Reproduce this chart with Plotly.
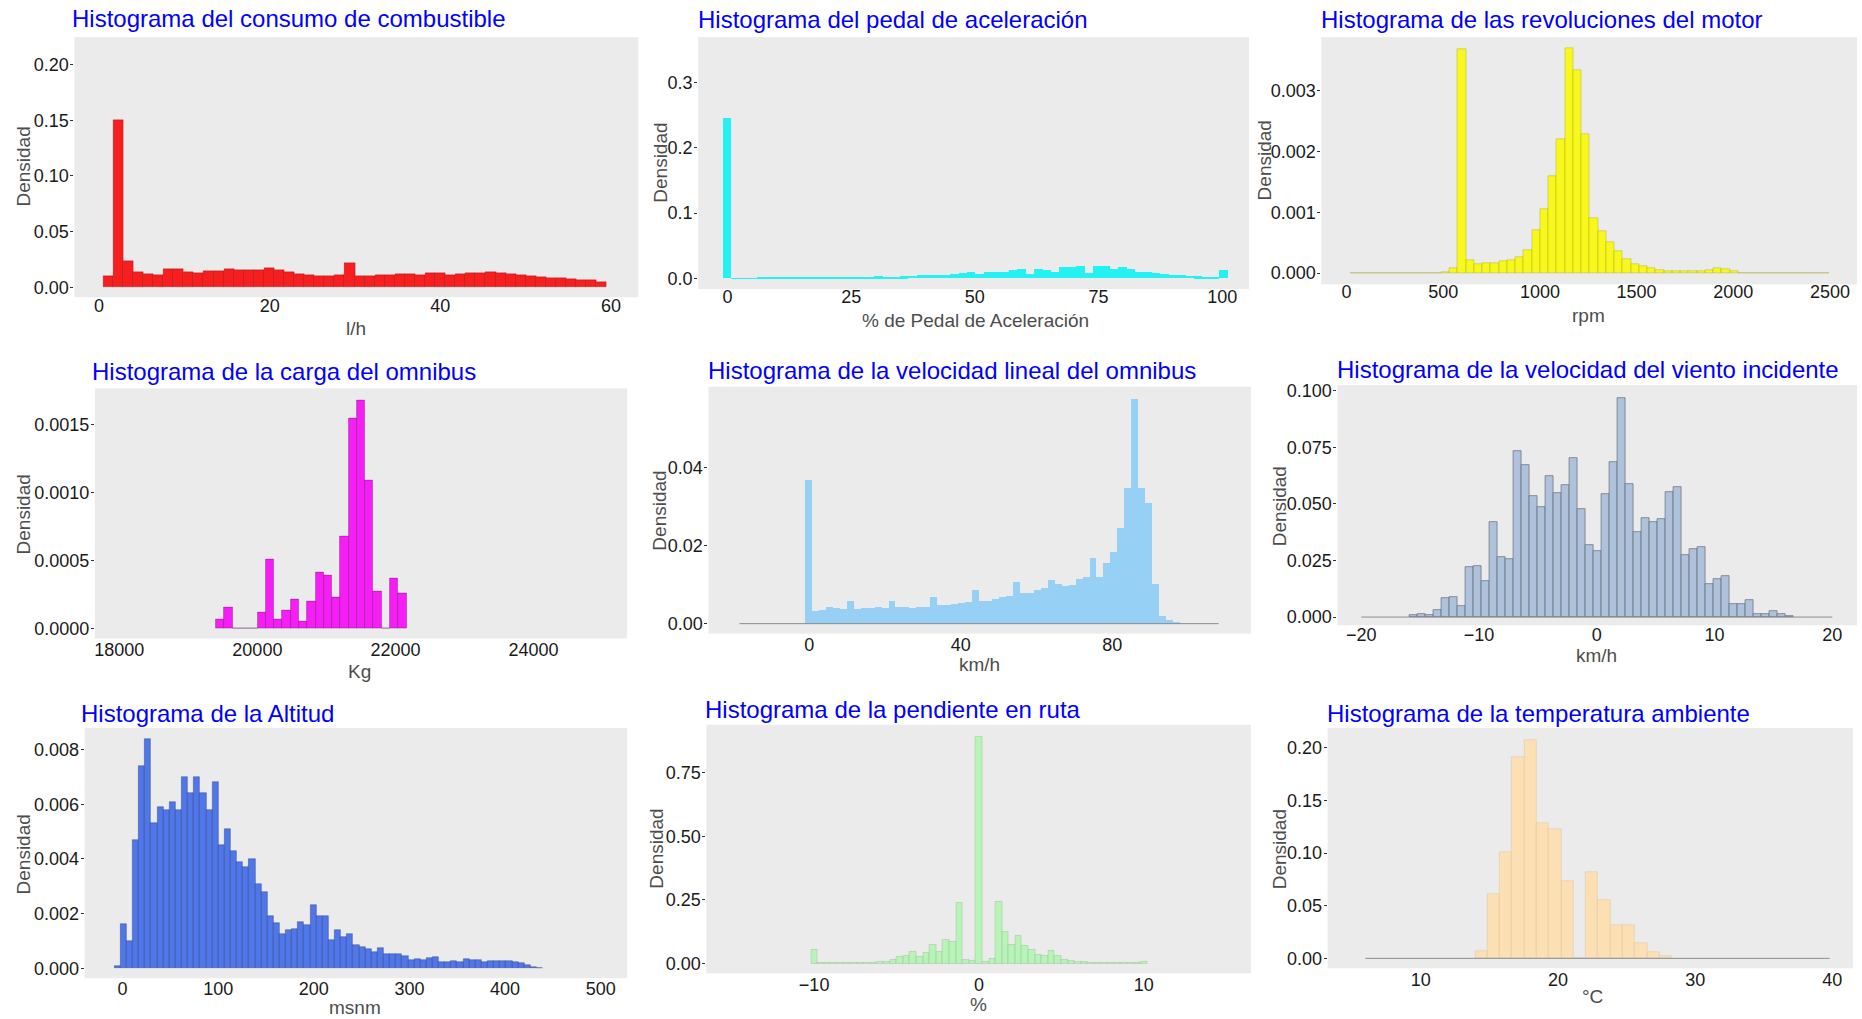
import plotly.graph_objects as go

W, H = 1862, 1019

# ---------------------------------------------------------------------------
# Histogram data: first bin edge, bin width and density of every bin
# ---------------------------------------------------------------------------
fuel_start, fuel_width = 0.5, 1.18
fuel_density = [
    0.0099, 0.150, 0.024, 0.014, 0.012, 0.011, 0.016, 0.0165, 0.0135, 0.013,
    0.0147, 0.0144, 0.016, 0.0153, 0.0153, 0.0156, 0.0174, 0.0156, 0.014, 0.012,
    0.0114, 0.0099, 0.0105, 0.0108, 0.0219, 0.0105, 0.0105, 0.0108, 0.0114, 0.012,
    0.0123, 0.011, 0.0132, 0.0132, 0.0114, 0.012, 0.0126, 0.0129, 0.0135, 0.0129,
    0.012, 0.011, 0.0099, 0.0093, 0.0084, 0.0087, 0.0075, 0.0069, 0.0069, 0.0051,
]

pedal_start, pedal_width = -0.85, 1.7
pedal_density = [
    0.246, 0.0004, 0.0004, 0.0004, 0.0005, 0.0005, 0.0005, 0.0006, 0.0007, 0.0008,
    0.0009, 0.0010, 0.0011, 0.0012, 0.0013, 0.0015, 0.0020, 0.0022, 0.0028, 0.0025,
    0.0022, 0.0030, 0.0038, 0.0045, 0.0050, 0.0055, 0.0050, 0.0065, 0.0080, 0.0100,
    0.0060, 0.0100, 0.0100, 0.0090, 0.0120, 0.0140, 0.0070, 0.0140, 0.0130, 0.0100,
    0.0170, 0.0170, 0.0190, 0.0080, 0.0190, 0.0190, 0.0150, 0.0170, 0.0150, 0.0090,
    0.0100, 0.0080, 0.0060, 0.0050, 0.0050, 0.0040, 0.0030, 0.0020, 0.0020, 0.0120,
]

rpm_start, rpm_width = 19.0, 42.7
rpm_density = [
    0.000005, 0.000005, 0.000005, 0.000005, 0.000005, 0.000005, 0.000005, 0.000005,
    0.000005, 0.000005, 0.000005, 0.00002, 0.00009, 0.00368, 0.00022, 0.00014,
    0.00016, 0.00016, 0.00019, 0.00022, 0.00026, 0.00038, 0.00071, 0.00105,
    0.0016, 0.0022, 0.0037, 0.00334, 0.00229, 0.00091, 0.00069, 0.00051,
    0.00037, 0.00023, 0.00015, 0.00011, 0.00008, 0.00005, 0.00004, 0.00003,
    0.00003, 0.00003, 0.00004, 0.00005, 0.00008, 0.00007, 0.00003, 0.000005,
    0.000005, 0.000005, 0.000005, 0.000005, 0.000005, 0.000005, 0.000005, 0.000005,
    0.000005, 0.000005,
]

load_start, load_width = 19400.0, 120.0
load_density = [
    0.0000683, 0.000159, 0.0, 0.0, 0.0, 0.000122, 0.000512, 0.000066,
    0.000134, 0.000212, 0.000054, 0.0002, 0.000415, 0.00039, 0.000232, 0.000676,
    0.00155, 0.00168, 0.00109, 0.000276, 0.0, 0.000373, 0.000261,
]

speed_start, speed_width = -0.915, 1.83
speed_extent = (-18.4, 108.1)
speed_density = [
    0.0369, 0.0032, 0.0036, 0.0042, 0.0040, 0.0038, 0.0059, 0.0038, 0.0040, 0.0041,
    0.0042, 0.0040, 0.0059, 0.0042, 0.0042, 0.0041, 0.0044, 0.0044, 0.0070, 0.0048,
    0.0049, 0.0051, 0.0053, 0.0055, 0.0086, 0.0058, 0.0059, 0.0064, 0.0068, 0.0072,
    0.0108, 0.0078, 0.0080, 0.0086, 0.0092, 0.0112, 0.0102, 0.0097, 0.0100, 0.0114,
    0.0120, 0.0168, 0.0120, 0.0157, 0.0185, 0.0246, 0.0347, 0.0576, 0.0347, 0.0309,
    0.0102, 0.0021, 0.0010, 0.0004,
]

wind_start, wind_width = -15.905, 0.68
wind_extent = (-20.0, 20.0)
wind_density = [
    0.0010, 0.0015, 0.0010, 0.0030, 0.0085, 0.0090, 0.0050, 0.0220, 0.0227, 0.0160,
    0.0418, 0.0267, 0.0257, 0.0733, 0.0674, 0.0535, 0.0487, 0.0625, 0.0550, 0.0584,
    0.0704, 0.0477, 0.0320, 0.0290, 0.0545, 0.0686, 0.0970, 0.0590, 0.0377, 0.0437,
    0.0420, 0.0435, 0.0553, 0.0576, 0.0276, 0.0300, 0.0310, 0.0147, 0.0169, 0.0183,
    0.0059, 0.0059, 0.0076, 0.0015, 0.0012, 0.0026, 0.0015, 0.0006,
]

alt_start, alt_width = -8.5, 6.4
alt_density = [
    0.00008, 0.00161, 0.0010, 0.0047, 0.0074, 0.0084, 0.0053, 0.0059, 0.0058, 0.0061,
    0.0058, 0.0070, 0.0064, 0.0070, 0.0064, 0.0058, 0.0068, 0.0045, 0.0051, 0.0043,
    0.0039, 0.0037, 0.0040, 0.0031, 0.0028, 0.0019, 0.00166, 0.00125, 0.0014, 0.00143,
    0.0017, 0.00158, 0.0023, 0.0019, 0.0019, 0.00105, 0.0014, 0.00113, 0.00127, 0.00085,
    0.00076, 0.00069, 0.0006, 0.00075, 0.00053, 0.00053, 0.00053, 0.00045, 0.0003, 0.00033,
    0.0003, 0.00036, 0.00041, 0.00023, 0.00024, 0.00027, 0.00024, 0.00035, 0.0003, 0.00029,
    0.00023, 0.00027, 0.00027, 0.00025, 0.00027, 0.00024, 0.00018, 0.00012, 0.00006, 0.00002,
]

slope_start, slope_width = -10.2, 0.4
slope_density = [
    0.052, 0.003, 0.004, 0.004, 0.004, 0.004, 0.004, 0.003, 0.002, 0.002,
    0.005, 0.006, 0.015, 0.025, 0.028, 0.046, 0.025, 0.040, 0.072, 0.045,
    0.094, 0.085, 0.239, 0.015, 0.010, 0.891, 0.008, 0.020, 0.244, 0.124,
    0.075, 0.110, 0.070, 0.055, 0.035, 0.030, 0.050, 0.030, 0.015, 0.012,
    0.008, 0.006, 0.004, 0.002, 0.003, 0.003, 0.003, 0.003, 0.002, 0.002,
    0.006,
]

temp_start, temp_width = 13.96, 0.896
temp_extent = (5.95, 39.8)
temp_density = [
    0.007, 0.061, 0.101, 0.1915, 0.208, 0.1285, 0.1228, 0.074,
    0.0, 0.0825, 0.055, 0.0315, 0.0315, 0.015, 0.006, 0.002,
]

# ---------------------------------------------------------------------------
# Panel definitions (pixel rectangles are in page pixels: left, right, top, bottom)
# ---------------------------------------------------------------------------
panels = [
    dict(title="Histograma del consumo de combustible", xlabel="l/h",
         start=fuel_start, width=fuel_width, dens=fuel_density, extent=None,
         fill="#F61E1E", line="rgba(120,0,0,0.45)", lw=0.6,
         rect=(73.5, 637.7, 33.3, 295.0), xr=[-2.87, 63.2], yr=[-0.0089, 0.2247],
         xt=[0, 20, 40, 60], yt=[0, 0.05, 0.10, 0.15, 0.20], yf=".2f", xoff=-4,
         tpos=(69.0, 15.0), ypos=(22.5, 163.0), xpos=(355.0, 326.0)),
    dict(title="Histograma del pedal de aceleración", xlabel="% de Pedal de Aceleración",
         start=pedal_start, width=pedal_width, dens=pedal_density, extent=None,
         fill="#24F2F2", line="rgba(36,242,242,1)", lw=0,
         rect=(697.6, 1248.6, 33.3, 286.7), xr=[-5.92, 105.4], yr=[-0.0163, 0.370],
         xt=[0, 25, 50, 75, 100], yt=[0, 0.1, 0.2, 0.3], yf=".1f", xoff=-5,
         tpos=(695.0, 15.3), ypos=(659.0, 160.0), xpos=(975.0, 318.0)),
    dict(title="Histograma de las revoluciones del motor", xlabel="rpm",
         start=rpm_start, width=rpm_width, dens=rpm_density, extent=None,
         fill="#F8F81E", line="rgba(150,150,0,0.55)", lw=0.6,
         rect=(1321.0, 1857.0, 33.3, 282.0), xr=[-130.8, 2640], yr=[-0.000185, 0.003883],
         xt=[0, 500, 1000, 1500, 2000, 2500], yt=[0, 0.001, 0.002, 0.003], yf=".3f", xoff=-5,
         tpos=(1319.0, 15.3), ypos=(1264.0, 157.0), xpos=(1588.0, 313.0)),
    dict(title="Histograma de la carga del omnibus", xlabel="Kg",
         start=load_start, width=load_width, dens=load_density, extent=None,
         fill="#F51EF5", line="rgba(90,0,90,0.55)", lw=0.6,
         rect=(93.9, 626.5, 386.7, 638.3), xr=[17645, 25358], yr=[-0.0000732, 0.001768],
         xt=[18000, 20000, 22000, 24000], yt=[0, 0.0005, 0.0010, 0.0015], yf=".4f", xoff=-2,
         tpos=(89.5, 369.5), ypos=(22.5, 513.0), xpos=(359.0, 671.0)),
    dict(title="Histograma de la velocidad lineal del omnibus", xlabel="km/h",
         start=speed_start, width=speed_width, dens=speed_density, extent=speed_extent,
         fill="#97D0F5", line="rgba(151,208,245,1)", lw=0,
         rect=(707.8, 1250.6, 385.0, 633.3), xr=[-26.6, 116.6], yr=[-0.00254, 0.0606],
         xt=[0, 40, 80], yt=[0, 0.02, 0.04], yf=".2f", xoff=-2,
         tpos=(705.0, 368.7), ypos=(659.0, 510.0), xpos=(979.0, 664.0)),
    dict(title="Histograma de la velocidad del viento incidente", xlabel="km/h",
         start=wind_start, width=wind_width, dens=wind_density, extent=wind_extent,
         fill="#AEC3DB", line="rgba(90,96,108,0.8)", lw=0.8,
         rect=(1337.2, 1857.0, 383.3, 625.0), xr=[-22.02, 22.1], yr=[-0.00365, 0.1026],
         xt=[-20, -10, 0, 10, 20], yt=[0, 0.025, 0.05, 0.075, 0.1], yf=".3f", xoff=-3,
         tpos=(1335.0, 368.0), ypos=(1279.0, 505.0), xpos=(1596.0, 655.5)),
    dict(title="Histograma de la Altitud", xlabel="msnm",
         start=alt_start, width=alt_width, dens=alt_density, extent=None,
         fill="#4F77E8", line="rgba(30,40,110,0.6)", lw=0.6,
         rect=(83.7, 626.5, 728.3, 980.0), xr=[-39.6, 527.7], yr=[-0.000364, 0.008789],
         xt=[0, 100, 200, 300, 400, 500], yt=[0, 0.002, 0.004, 0.006, 0.008], yf=".3f", xoff=-2,
         tpos=(78.5, 713.3), ypos=(22.5, 855.0), xpos=(354.3, 1009.0)),
    dict(title="Histograma de la pendiente en ruta", xlabel="%",
         start=slope_start, width=slope_width, dens=slope_density, extent=None,
         fill="#B8F4B8", line="rgba(120,165,120,0.55)", lw=0.5,
         rect=(705.7, 1250.6, 725.0, 975.0), xr=[-16.54, 16.5], yr=[-0.0391, 0.939],
         xt=[-10, 0, 10], yt=[0, 0.25, 0.5, 0.75], yf=".2f", xoff=-1,
         tpos=(702.0, 710.0), ypos=(656.0, 850.0), xpos=(978.4, 1006.0)),
    dict(title="Histograma de la temperatura ambiente", xlabel="°C",
         start=temp_start, width=temp_width, dens=temp_density, extent=temp_extent,
         fill="#FCE0B3", line="rgba(200,180,140,0.55)", lw=0.5,
         rect=(1327.3, 1852.9, 728.3, 970.0), xr=[3.2, 41.5], yr=[-0.00945, 0.219],
         xt=[10, 20, 30, 40], yt=[0, 0.05, 0.10, 0.15, 0.20], yf=".2f", xoff=-1,
         tpos=(1324.5, 714.0), ypos=(1280.0, 850.0), xpos=(1592.2, 998.5)),
]

FONT = "Liberation Sans, Arial, sans-serif"
PANEL_BG = "#EBEBEB"
TICK_SIZE = 18

fig = go.Figure()
layout = dict(
    width=W, height=H, margin=dict(l=0, r=0, t=0, b=0),
    paper_bgcolor="white", plot_bgcolor=PANEL_BG,
    showlegend=False, bargap=0, barmode="overlay",
    font=dict(family=FONT, size=TICK_SIZE, color="#1A1A1A"),
    annotations=[],
)


def px(x):
    return x / W


def py(y):
    return 1 - y / H


for i, p in enumerate(panels, start=1):
    sfx = "" if i == 1 else str(i)
    xa, ya = "x" + sfx, "y" + sfx
    L, R, T, B = p["rect"]

    if p["extent"] is not None:
        fig.add_trace(go.Scatter(
            x=list(p["extent"]), y=[0, 0], mode="lines",
            line=dict(color="#8C8C8C", width=1), hoverinfo="skip",
            xaxis=xa, yaxis=ya,
        ))

    centers = [p["start"] + p["width"] * (k + 0.5) for k in range(len(p["dens"]))]
    fig.add_trace(go.Bar(
        x=centers, y=p["dens"], width=p["width"],
        marker=dict(color=p["fill"], line=dict(color=p["line"], width=p["lw"])),
        xaxis=xa, yaxis=ya,
    ))

    layout["xaxis" + sfx] = dict(
        domain=[px(L), px(R)], range=p["xr"], anchor=ya,
        tickvals=p["xt"], tickformat="d", showgrid=False, zeroline=False,
        ticks="", ticklabelstandoff=p["xoff"],
        showline=False, tickfont=dict(size=TICK_SIZE, color="#1A1A1A"),
        fixedrange=True,
    )
    layout["yaxis" + sfx] = dict(
        domain=[py(B), py(T)], range=p["yr"], anchor=xa,
        tickvals=p["yt"], tickformat=p["yf"], showgrid=False, zeroline=False,
        ticks="outside", ticklen=3, tickcolor="#333333", tickwidth=1,
        ticklabelstandoff=-2,
        showline=False, tickfont=dict(size=TICK_SIZE, color="#1A1A1A"),
        fixedrange=True,
    )

    tx, ty = p["tpos"]
    layout["annotations"].append(dict(
        text=p["title"], x=px(tx), y=py(ty), xref="paper", yref="paper",
        xanchor="left", yanchor="middle", showarrow=False,
        font=dict(family=FONT, size=24, color="#0000FF"),
    ))
    yx, yy = p["ypos"]
    layout["annotations"].append(dict(
        text="Densidad", x=px(yx), y=py(yy), xref="paper", yref="paper",
        xanchor="center", yanchor="middle", textangle=-90, showarrow=False,
        font=dict(family=FONT, size=19, color="#4D4D4D"),
    ))
    lx, ly = p["xpos"]
    layout["annotations"].append(dict(
        text=p["xlabel"], x=px(lx), y=py(ly), xref="paper", yref="paper",
        xanchor="center", yanchor="middle", showarrow=False,
        font=dict(family=FONT, size=19, color="#4D4D4D"),
    ))

fig.update_layout(**layout)
fig.write_html("out.html")
